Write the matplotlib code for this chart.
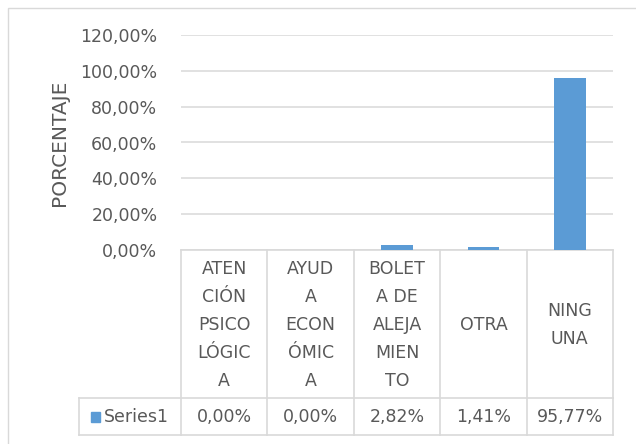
import matplotlib
matplotlib.use("Agg")
import matplotlib.pyplot as plt
from matplotlib.patches import Rectangle
from matplotlib.ticker import FuncFormatter

# datos
categorias = ["ATEN\nCIÓN\nPSICO\nLÓGIC\nA", "AYUD\nA\nECON\nÓMIC\nA",
              "BOLET\nA DE\nALEJA\nMIEN\nTO", "OTRA", "NING\nUNA"]
valores = [0.00, 0.00, 2.82, 1.41, 95.77]
serie = "Series1"
eje_y = "PORCENTAJE"

azul = "#5B9BD5"
gris_txt = "#595959"
gris_lin = "#D9D9D9"

W, H = 636, 444
fig = plt.figure(figsize=(W / 100, H / 100), dpi=100)

# marco exterior
fig.patches.append(Rectangle((8 / W, -0.1), 1.2, (H - 8) / H + 0.1,
                             transform=fig.transFigure, fill=False,
                             edgecolor=gris_lin, linewidth=1))

x0, x1, ytop, y0 = 181, 613, 35, 250
ax = fig.add_axes([x0 / W, (H - y0) / H, (x1 - x0) / W, (y0 - ytop) / H])

xs = list(range(len(categorias)))
ax.bar(xs, valores, width=0.365, color=azul, zorder=3)

ax.set_xlim(-0.5, len(categorias) - 0.5)
ax.set_ylim(0, 120)
ax.set_yticks(range(0, 121, 20))
ax.yaxis.set_major_formatter(FuncFormatter(lambda v, p: f"{v:.2f}%".replace(".", ",")))
ax.set_xticks([])
ax.tick_params(axis="y", length=0, pad=17, labelsize=12.5, labelcolor=gris_txt)
for s in ax.spines.values():
    s.set_visible(False)
ax.yaxis.grid(True, color=gris_lin, linewidth=1.1, zorder=0)
ax.set_axisbelow(True)
ax.set_ylabel(eje_y, fontsize=14.5, color=gris_txt, labelpad=8)

# tabla de datos
alto = y0 - ytop
def ay(py):
    return (y0 - py) / alto
def dx(px):
    return (px - x0) / ((x1 - x0) / len(categorias)) - 0.5

tr = ax.get_xaxis_transform()
r1, r2 = ay(398), ay(435)
xl = dx(79)
n = len(categorias)
kw = dict(color=gris_lin, linewidth=1.2, transform=tr, clip_on=False, zorder=1)
ax.plot([-0.5, n - 0.5], [0, 0], **kw)
ax.plot([xl, n - 0.5], [r1, r1], **kw)
ax.plot([xl, n - 0.5], [r2, r2], **kw)
for i in range(n + 1):
    ax.plot([i - 0.5, i - 0.5], [0, r2], **kw)
ax.plot([xl, xl], [r1, r2], **kw)

for i, (c, v) in enumerate(zip(categorias, valores)):
    ax.text(i, ay(325), c, transform=tr, ha="center", va="center",
            fontsize=12.5, color=gris_txt, linespacing=1.7)
    ax.text(i, (r1 + r2) / 2, f"{v:.2f}%".replace(".", ","), transform=tr,
            ha="center", va="center", fontsize=12.5, color=gris_txt)

ax.add_patch(Rectangle((dx(91), ay(422)), dx(100) - dx(91), ay(412) - ay(422),
                       transform=tr, color=azul, clip_on=False))
ax.text(dx(104), (r1 + r2) / 2, serie, transform=tr, ha="left", va="center",
        fontsize=12.5, color=gris_txt)

fig.savefig("out.png", dpi=100)
